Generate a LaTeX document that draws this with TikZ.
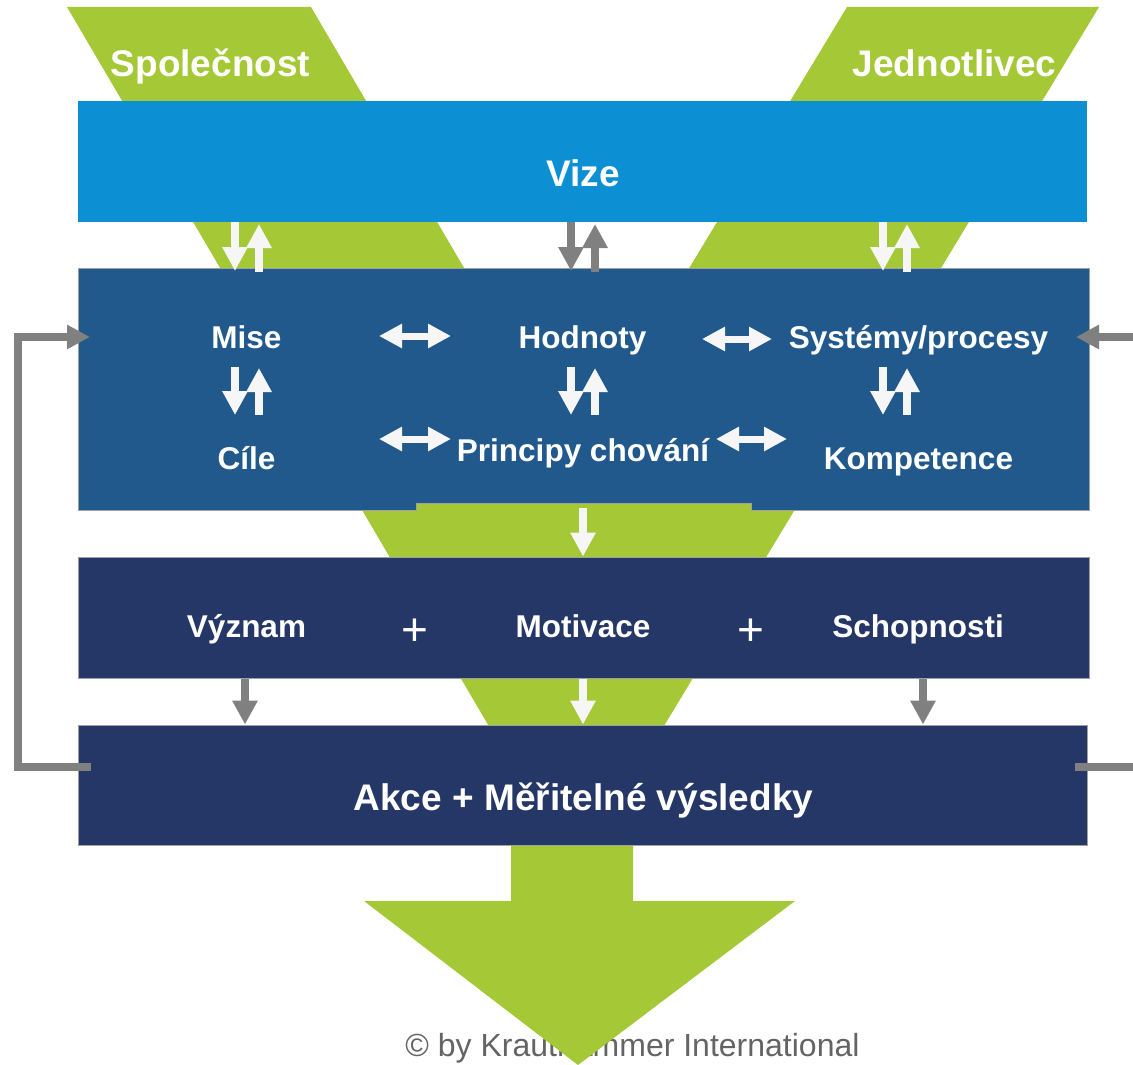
\documentclass[tikz,border=0pt]{standalone}
\usepackage{fontspec}
\setmainfont{Liberation Sans}
\usetikzlibrary{arrows.meta}

\definecolor{vgreen}{RGB}{165,200,55}
\definecolor{vizeblue}{RGB}{13,144,211}
\definecolor{midblue}{RGB}{33,89,141}
\definecolor{navy}{RGB}{37,55,102}
\definecolor{arrowgray}{RGB}{128,128,128}
\definecolor{offwhite}{RGB}{246,246,246}
\definecolor{framegray}{RGB}{160,160,160}
\definecolor{copygray}{RGB}{100,100,100}

\tikzset{
  level/.style={inner sep=0pt, minimum width=#1, minimum height=121pt},
  title/.style={anchor=base, inner sep=0pt, text=white, font=\bfseries\fontsize{37}{44}\selectfont},
  item/.style={anchor=base, inner sep=0pt, text=white, font=\bfseries\fontsize{31.5}{38}\selectfont},
  plus/.style={inner sep=0pt, text=white, font=\fontsize{46}{50}\selectfont},
  blockarrow/.style={line width=8pt, -{Triangle[length=24pt,width=24pt]}},
  linkarrow/.style={offwhite, line width=7pt, {Triangle[length=23pt,width=23pt]}-{Triangle[length=23pt,width=23pt]}},
  feedback/.style={arrowgray, line width=8pt},
}

\begin{document}
\begin{tikzpicture}[x=1pt, y=-1pt]
    \useasboundingbox (0,0) rectangle (1133,1065);

    % green V behind all levels
    \fill[vgreen] (67,7) -- (311,7) -- (575,457) -- (847,7) -- (1099,7) -- (575,873) -- cycle;
    \node[title] (spolecnost) at (210.5,77) {Společnost};
    \node[title] (jednotlivec) at (954.5,77) {Jednotlivec};

    % copyright, partly hidden by the big arrow
    \node[anchor=base, inner sep=0pt, text=copygray, font=\fontsize{32}{38}\selectfont] (copy) at (632.5,1056) {© by Krauthammer International};
    \fill[vgreen] (511,845) -- (633,845) -- (633,901) -- (795,901) -- (578,1065) -- (364,901) -- (511,901) -- cycle;

    % the four levels
    \node[level=1009pt, fill=vizeblue] (vizebox) at (582.5,161.5) {};
    \fill[midblue] (78,268) -- (1089,268) -- (1089,510) -- (751,510) -- (751,503) -- (416,503) -- (416,510) -- (78,510) -- cycle;
    \draw[framegray, line width=1pt] (78,268) -- (1089,268) -- (1089,510) -- (751,510) -- (751,503) -- (416,503) -- (416,510) -- (78,510) -- cycle;
    \node[level=1011pt, fill=navy, draw=framegray, line width=1pt] (motbox) at (583.5,617.5) {};
    \node[level=1009pt, minimum height=120pt, fill=navy, draw=framegray, line width=1pt] (akcebox) at (582.5,785) {};

    % texts
    \node[title] (vize) at (583,186) {Vize};
    \node[item] (mise) at (246.5,348) {Mise};
    \node[item] (cile) at (246.5,469) {Cíle};
    \node[item] (hodnoty) at (582.5,348) {Hodnoty};
    \node[item] (principy) at (583,461) {Principy chování};
    \node[item] (systemy) at (918.5,348) {Systémy/procesy};
    \node[item] (kompetence) at (918.5,469) {Kompetence};
    \node[item] (vyznam) at (246.5,637) {Význam};
    \node[item] (motivace) at (583,637) {Motivace};
    \node[item] (schopnosti) at (918,637) {Schopnosti};
    \node[plus] (plusa) at (415,632) {+};
    \node[plus] (plusb) at (751,632) {+};
    \node[title] (akce) at (583.5,810) {Akce + Měřitelné výsledky};

    % paired arrows: Vize <-> second level, and inside it
    \foreach \x/\c in {235/offwhite, 571/arrowgray, 883/offwhite} {
        \draw[blockarrow, \c] (\x,222) -- (\x,271);
        \draw[blockarrow, \c] (\x+24,272) -- (\x+24,224);
    }
    \foreach \x in {235, 571, 883} {
        \draw[blockarrow, offwhite] (\x,367) -- (\x,415);
        \draw[blockarrow, offwhite] (\x+24,415) -- (\x+24,368);
    }

    % links across the second level
    \draw[linkarrow] (379,336) -- (451,336);
    \draw[linkarrow] (379,439) -- (451,439);
    \draw[linkarrow] (702,339) -- (772,339);
    \draw[linkarrow] (716,439) -- (787,439);

    % down the levels
    \draw[blockarrow, offwhite] (583,508) -- (motivace |- motbox.north);
    \draw[blockarrow, offwhite] (motivace |- motbox.south) -- (motivace |- akcebox.north);
    \draw[blockarrow, arrowgray] (245,0 |- motbox.south) -- (245,0 |- akcebox.north);
    \draw[blockarrow, arrowgray] (923,0 |- motbox.south) -- (923,0 |- akcebox.north);

    % feedback loop
    \draw[feedback, -{Triangle[length=23pt,width=23pt]}] (91,767) -- (18,767) -- (18,337) -- (90,337);
    \draw[feedback] (1075,767) -- (1133,767);
    \draw[feedback, -{Triangle[length=23pt,width=23pt]}] (1133,337) -- (1076,337);
\end{tikzpicture}
\end{document}
